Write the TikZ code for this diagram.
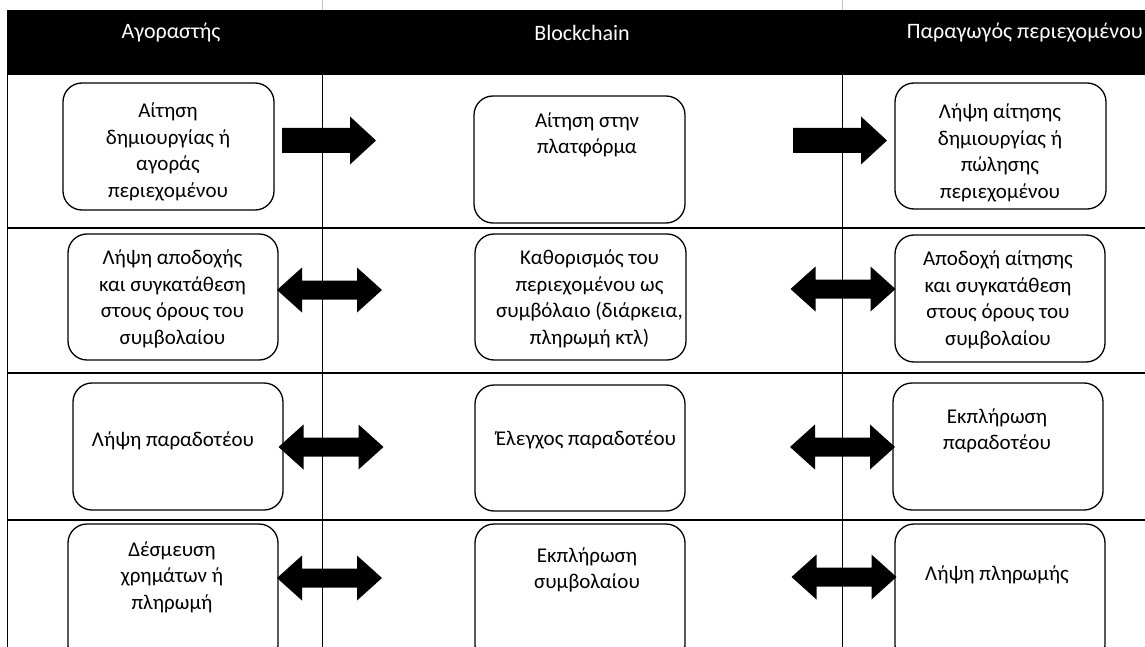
\documentclass[tikz,border=0pt]{standalone}
\usepackage{fontspec}
\setmainfont{Carlito}
\begin{document}
\begin{tikzpicture}[x=1pt,y=-1pt,
  lane/.style={line width=1.2pt,draw=black},
  box/.style={draw=black,line width=1.3pt,rounded corners=19pt,fill=white,inner sep=0pt},
  txt/.style={align=center,inner sep=0pt,font=\fontsize{21}{26.5}\selectfont},
  head/.style={text=white,inner sep=0pt,font=\fontsize{22}{26}\selectfont},
  pics/rarrow/.style={code={
    \fill (-47,-12.5) -- (21,-12.5) -- (21,-24) -- (47,0) -- (21,24) -- (21,12.5) -- (-47,12.5) -- cycle;}},
  pics/darrow/.style={code={
    \fill (-52.5,0) -- (-27.5,-22.5) -- (-27.5,-9.5) -- (27.5,-9.5) -- (27.5,-22.5) -- (52.5,0)
      -- (27.5,22.5) -- (27.5,9.5) -- (-27.5,9.5) -- (-27.5,22.5) -- cycle;}}
]
\useasboundingbox (0,0) rectangle (1145,647);
\clip (0,0) rectangle (1145,647);

% swimlane grid
\draw[draw=black!25,line width=0.5pt] (322.5,0) -- (322.5,10) (842.5,0) -- (842.5,10);
\draw[lane] (322.5,10) -- (322.5,647);
\draw[lane] (842.5,10) -- (842.5,647);
\draw[lane] (7.5,75) -- (7.5,647);
\draw[lane] (7,228) -- (1145,228);
\draw[lane] (7,373) -- (1145,373);
\draw[lane] (7,520) -- (1145,520);

% header band
\fill[black] (7,10) rectangle (1145,75);
\node[head] (hbuyer) at (171,33) {Αγοραστής};
\node[head] (hchain) at (582,33) {Blockchain};
\node[head,anchor=east] (hprod) at (1143,33) {Παραγωγός περιεχομένου};

% boxes
\node[box,minimum width=211pt,minimum height=127pt] (L1) at (168.5,146.5) {};
\node[box,minimum width=211pt,minimum height=127pt] (M1) at (579.5,159.5) {};
\node[box,minimum width=211pt,minimum height=126pt] (R1) at (1000.5,146) {};
\node[box,minimum width=210pt,minimum height=126pt] (L2) at (173,297) {};
\node[box,minimum width=211pt,minimum height=126pt] (M2) at (580.5,297) {};
\node[box,minimum width=210pt,minimum height=127pt] (R2) at (1000,298.5) {};
\node[box,minimum width=210pt,minimum height=127pt] (L3) at (178,446.5) {};
\node[box,minimum width=210pt,minimum height=126pt] (M3) at (580,448) {};
\node[box,minimum width=210pt,minimum height=127pt] (R3) at (998,446.5) {};
\node[box,minimum width=210pt,minimum height=140pt] (L4) at (173,594) {};
\node[box,minimum width=210pt,minimum height=140pt] (M4) at (580,594) {};
\node[box,minimum width=210pt,minimum height=140pt] (R4) at (1000,594) {};

% box texts
\node[txt] (tL1) at (168,152) {Αίτηση\\δημιουργίας ή\\αγοράς\\περιεχομένου};
\node[txt] (tM1) at (587,135) {Αίτηση στην\\πλατφόρμα};
\node[txt] (tR1) at (1000,153) {Λήψη αίτησης\\δημιουργίας ή\\πώλησης\\περιεχομένου};
\node[txt] (tL2) at (172.5,299) {Λήψη αποδοχής\\και συγκατάθεση\\στους όρους του\\συμβολαίου};
\node[txt] (tM2) at (589.5,299) {Καθορισμός του\\περιεχομένου ως\\συμβόλαιο (διάρκεια,\\πληρωμή κτλ)};
\node[txt] (tR2) at (998,300) {Αποδοχή αίτησης\\και συγκατάθεση\\στους όρους του\\συμβολαίου};
\node[txt] (tL3) at (173,441) {Λήψη παραδοτέου};
\node[txt] (tM3) at (586,440) {Έλεγχος παραδοτέου};
\node[txt] (tR3) at (997,431) {Εκπλήρωση\\παραδοτέου};
\node[txt] (tL4) at (172,577) {Δέσμευση\\χρημάτων ή\\πληρωμή};
\node[txt] (tM4) at (587,570) {Εκπλήρωση\\συμβολαίου};
\node[txt] (tR4) at (997,575) {Λήψη πληρωμής};

% block arrows between the lanes
\pic (a1l) at (329,140.5) {rarrow};
\pic (a1r) at (840,140.5) {rarrow};
\pic (a2l) at (329.5,290) {darrow};
\pic (a2r) at (843,289) {darrow};
\pic (a3l) at (331,447) {darrow};
\pic (a3r) at (842.5,447) {darrow};
\pic (a4l) at (329.5,578) {darrow};
\pic (a4r) at (844,577) {darrow};
\end{tikzpicture}
\end{document}
